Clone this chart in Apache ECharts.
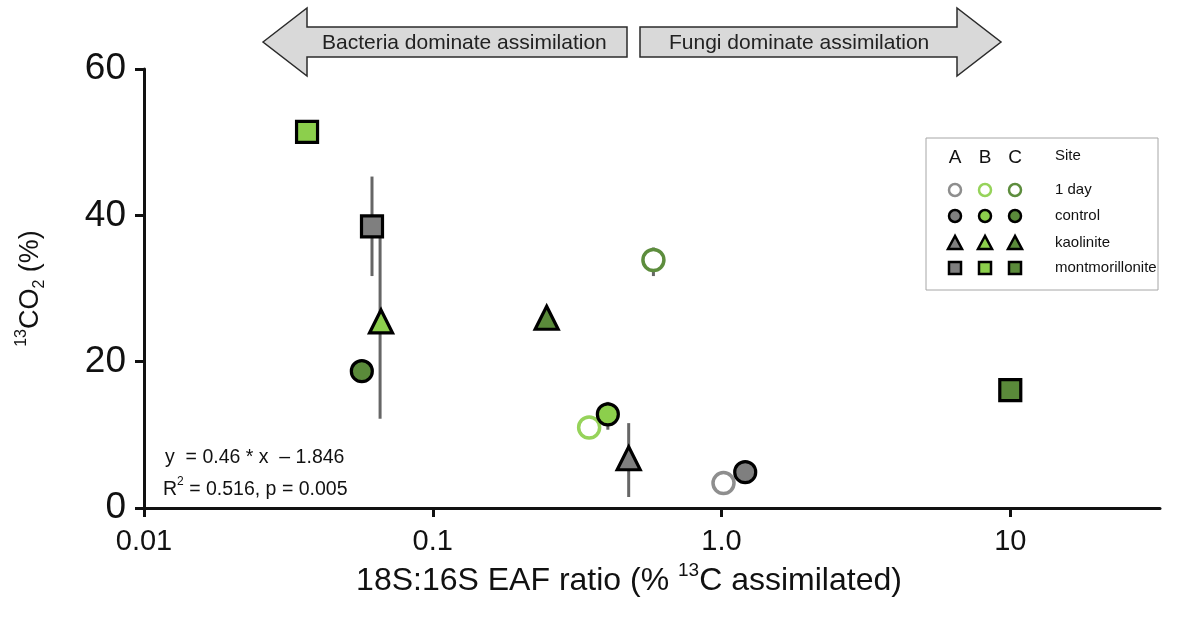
<!DOCTYPE html>
<html>
<head>
<meta charset="utf-8">
<script src="https://cdn.jsdelivr.net/npm/echarts@6/dist/echarts.min.js"></script>
<style>
  html, body { margin: 0; padding: 0; background: #fff; }
  #main { width: 1182px; height: 617px; }
</style>
</head>
<body>
<div id="main"></div>
<script>
// sites A, B, C in each treatment list: [EAF ratio, 13CO2 %]
const sites = ['A', 'B', 'C'];
const treatments = ['1 day', 'control', 'kaolinite', 'montmorillonite'];
const oneDay = [[1.016, 3.4], [0.348, 11.0], [0.581, 33.9]];
const control = [[1.208, 4.9], [0.404, 12.8], [0.0568, 18.7]];
const kaolinite = [[0.477, 6.8], [0.0662, 25.5], [0.248, 26.0]];
const montmorillonite = [[0.0616, 38.5], [0.0367, 51.4], [10.0, 16.1]];
// error bars: [x, low, high]
const errorBars = [
  [0.0616, 31.7, 45.3],
  [0.0657, 12.2, 37.5],
  [0.581, 31.7, 35.6],
  [0.404, 10.7, 14.5],
  [0.477, 1.5, 11.6]
];
const xTicks = [0.01, 0.1, 1, 10];
const xTickLabels = ['0.01', '0.1', '1.0', '10'];
const yTicks = [0, 20, 40, 60];

const fillColors = ['#7f7f7f', '#8ccf4c', '#5a8a3a'];
const openColors = ['#8e8e8e', '#96d35a', '#5d8d3d'];
const symbols = ['circle', 'circle', 'triangle', 'rect'];
const font = "'Liberation Sans', Arial, sans-serif";

const chart = echarts.init(document.getElementById('main'));

function pointSeries(name, data, idx) {
  return {
    name: name,
    type: 'scatter',
    symbol: symbols[idx],
    symbolSize: idx === 2 ? 23 : 21,
    z: 3 + idx,
    data: data.map((d, i) => ({
      value: d,
      itemStyle: idx === 0
        ? {color: '#fff', borderColor: openColors[i], borderWidth: 3.5, opacity: 1}
        : {color: fillColors[i], borderColor: '#000', borderWidth: 3.2, opacity: 1}
    })),
    emphasis: {disabled: true}
  };
}

// legend drawn as a small table: one column per site, one row per treatment
const legendEls = [];
const colX = [955, 985, 1015];
const rowY = [190, 216, 243, 268];
legendEls.push({type: 'rect', shape: {x: 926, y: 138, width: 232, height: 152},
  style: {fill: '#fff', stroke: '#a6a6a6', lineWidth: 1}});
sites.forEach((s, i) => {
  legendEls.push({type: 'text', x: colX[i], y: 158,
    style: {text: s, font: '19px ' + font, fill: '#111', align: 'center', verticalAlign: 'middle'}});
});
legendEls.push({type: 'text', x: 1055, y: 156,
  style: {text: 'Site', font: '15px ' + font, fill: '#111', verticalAlign: 'middle'}});
treatments.forEach((t, r) => {
  const cy = rowY[r];
  legendEls.push({type: 'text', x: 1055, y: cy,
    style: {text: t, font: '15px ' + font, fill: '#111', verticalAlign: 'middle'}});
  sites.forEach((s, i) => {
    const cx = colX[i];
    const st = r === 0
      ? {fill: '#fff', stroke: openColors[i], lineWidth: 2.5}
      : {fill: fillColors[i], stroke: '#000', lineWidth: 2.5};
    if (r <= 1) {
      legendEls.push({type: 'circle', shape: {cx: cx, cy: cy, r: 6}, style: st});
    } else if (r === 2) {
      legendEls.push({type: 'polygon', shape: {points: [[cx, cy - 7], [cx - 7, cy + 6], [cx + 7, cy + 6]]}, style: st});
    } else {
      legendEls.push({type: 'rect', shape: {x: cx - 6, y: cy - 6, width: 12, height: 12}, style: st});
    }
  });
});

const arrowStyle = {fill: '#d9d9d9', stroke: '#2b2b2b', lineWidth: 1.5};

const option = {
  backgroundColor: '#fff',
  animation: false,
  grid: {left: 144, right: 22, top: 69, bottom: 109},
  xAxis: {
    type: 'log',
    logBase: 10,
    min: 0.01,
    max: 33,
    name: '{n|18S:16S EAF ratio (% }{s|13}{n|C assimilated)}',
    nameLocation: 'middle',
    nameGap: 48,
    nameTextStyle: {
      padding: [0, 46, 0, 0],
      rich: {
        n: {fontSize: 32, fontFamily: font, color: '#111', lineHeight: 36, verticalAlign: 'bottom'},
        s: {fontSize: 19, fontFamily: font, color: '#111', lineHeight: 36, verticalAlign: 'top', padding: [0, 0, 8, 0]}
      }
    },
    axisLine: {lineStyle: {color: '#111', width: 3}},
    axisTick: {length: 9, customValues: xTicks, lineStyle: {color: '#111', width: 3}},
    axisLabel: {
      margin: 19,
      fontSize: 29,
      fontFamily: font,
      color: '#111',
      customValues: xTicks,
      formatter: v => {
        const e = Math.round(Math.log10(v));
        const i = xTicks.findIndex(t => Math.round(Math.log10(t)) === e);
        return i >= 0 ? xTickLabels[i] : '';
      }
    },
    minorTick: {show: false},
    splitLine: {show: false}
  },
  yAxis: {
    type: 'value',
    min: 0,
    max: 60,
    interval: 20,
    name: '{sup|13}{n|CO}{sub|2}{n| (%)}',
    nameLocation: 'middle',
    nameRotate: 90,
    nameGap: 96,
    nameTextStyle: {
      rich: {
        n: {fontSize: 27, fontFamily: font, color: '#111', lineHeight: 34},
        sup: {fontSize: 16, fontFamily: font, color: '#111', verticalAlign: 'top', lineHeight: 34, padding: [0, 0, 10, 0]},
        sub: {fontSize: 16, fontFamily: font, color: '#111', verticalAlign: 'bottom', lineHeight: 34, padding: [10, 0, 0, 0]}
      }
    },
    axisLine: {show: true, lineStyle: {color: '#111', width: 3}},
    axisTick: {show: true, length: 9, lineStyle: {color: '#111', width: 3}},
    axisLabel: {margin: 18, fontSize: 37, fontFamily: font, color: '#111',
      formatter: v => yTicks.indexOf(v) >= 0 ? String(v) : ''},
    splitLine: {show: false}
  },
  series: [
    {
      type: 'custom',
      z: 2,
      renderItem: (params, api) => {
        const top = api.coord([api.value(0), api.value(2)]);
        const bot = api.coord([api.value(0), api.value(1)]);
        return {type: 'line', shape: {x1: top[0], y1: top[1], x2: bot[0], y2: bot[1]},
          style: {stroke: '#666', lineWidth: 3}};
      },
      encode: {x: 0, y: [1, 2]},
      data: errorBars,
      silent: true
    },
    pointSeries('1 day', oneDay, 0),
    pointSeries('control', control, 1),
    pointSeries('kaolinite', kaolinite, 2),
    pointSeries('montmorillonite', montmorillonite, 3)
  ],
  graphic: [
    {type: 'polygon', shape: {points: [[263, 42], [307, 8], [307, 27], [627, 27], [627, 57], [307, 57], [307, 76]]}, style: arrowStyle},
    {type: 'polygon', shape: {points: [[640, 27], [957, 27], [957, 8], [1001, 42], [957, 76], [957, 57], [640, 57]]}, style: arrowStyle},
    {type: 'text', x: 322, y: 43, style: {text: 'Bacteria dominate assimilation', font: '21px ' + font, fill: '#222', verticalAlign: 'middle'}},
    {type: 'text', x: 669, y: 43, style: {text: 'Fungi dominate assimilation', font: '21px ' + font, fill: '#222', verticalAlign: 'middle'}},
    {type: 'text', x: 165, y: 458, style: {text: 'y  = 0.46 * x  \u2013 1.846', font: '19.5px ' + font, fill: '#111', verticalAlign: 'middle'}},
    {type: 'text', x: 163, y: 488, style: {
      text: '{a|R}{s|2}{a| = 0.516, p = 0.005}',
      verticalAlign: 'middle',
      rich: {
        a: {fontSize: 19.5, fontFamily: font, fill: '#111', lineHeight: 24, verticalAlign: 'bottom'},
        s: {fontSize: 12, fontFamily: font, fill: '#111', lineHeight: 24, verticalAlign: 'top', padding: [0, 0, 7, 0]}
      }
    }}
  ].concat(legendEls)
};

chart.setOption(option);
</script>
</body>
</html>
